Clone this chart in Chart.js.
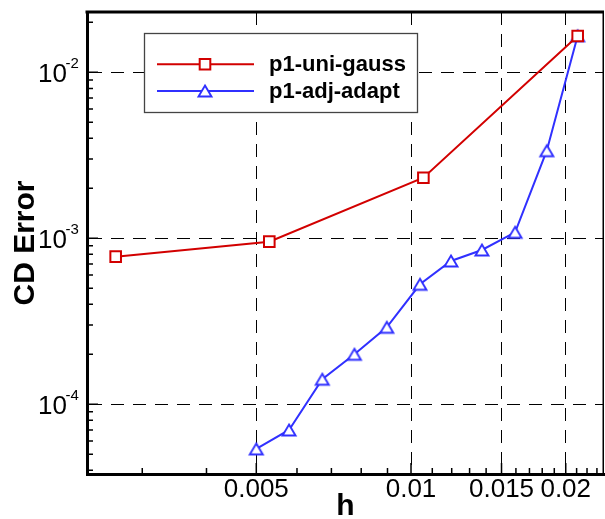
<!DOCTYPE html>
<html><head><meta charset="utf-8">
<script src="https://cdn.jsdelivr.net/npm/chart.js@4.4.1/dist/chart.umd.min.js"></script>
<style>html,body{margin:0;padding:0;background:#fff;} #wrap{width:605px;height:519px;}</style>
</head><body><div id="wrap"><canvas id="c" width="605" height="519"></canvas></div>
<script>
// ---------------- data ----------------
const redLabel = 'p1-uni-gauss';
const redH   = [0.002663, 0.0053, 0.01057, 0.0211];
const redErr = [7.75e-4, 9.54e-4, 2.317e-3, 1.655e-2];

const blueLabel = 'p1-adj-adapt';
const blueH   = [0.005, 0.00579, 0.00672, 0.00776, 0.00897, 0.01041, 0.01196, 0.01374, 0.01594, 0.01837, 0.0211];
const blueErr = [5.38e-5, 7.0e-5, 1.415e-4, 2.0e-4, 2.91e-4, 5.28e-4, 7.3e-4, 8.5e-4, 1.087e-3, 3.37e-3, 1.66e-2];

const xTickValues = [0.005, 0.01, 0.015, 0.02];
const xTickLabels = ['0.005', '0.01', '0.015', '0.02'];
const xMinorTicks = [0.003, 0.004, 0.006, 0.007, 0.008, 0.009, 0.011, 0.012, 0.013, 0.014, 0.016, 0.017, 0.018, 0.019, 0.021, 0.022, 0.023];

const yTickValues = [1e-4, 1e-3, 1e-2];
const yTickBase = '10';
const yTickExponents = ['-4', '-3', '-2'];
const yMinorTicks = [4e-5, 5e-5, 6e-5, 7e-5, 8e-5, 9e-5,
                     2e-4, 3e-4, 4e-4, 5e-4, 6e-4, 7e-4, 8e-4, 9e-4,
                     2e-3, 3e-3, 4e-3, 5e-3, 6e-3, 7e-3, 8e-3, 9e-3,
                     2e-2];

const xTitle = 'h';
const yTitle = 'CD Error';

// ---------------- style ----------------
const FONT = '"Liberation Sans", Arial, Helvetica, sans-serif';
const RED = '#d20000';
const BLUE = '#3030ff';

function makeTriangle(color) {
  const c = document.createElement('canvas');
  c.width = 26; c.height = 26;
  const g = c.getContext('2d');
  g.beginPath();
  g.moveTo(13, 13 - 5.5);
  g.lineTo(13 + 6.5, 13 + 5.5);
  g.lineTo(13 - 6.5, 13 + 5.5);
  g.closePath();
  g.fillStyle = '#fff'; g.fill();
  g.lineWidth = 1.9; g.strokeStyle = color; g.lineJoin = 'miter';
  g.stroke();
  return c;
}
const triImg = makeTriangle(BLUE);

const decor = {
  id: 'decor',
  afterDatasetsDraw(chart) {
    const {ctx, chartArea: a, scales: {x, y}} = chart;
    ctx.save();
    // inner tick marks
    ctx.strokeStyle = '#000';
    ctx.lineWidth = 1.5;
    ctx.beginPath();
    xMinorTicks.forEach(v => { const p = x.getPixelForValue(v); ctx.moveTo(p, a.bottom); ctx.lineTo(p, a.bottom - 6); });
    xTickValues.forEach(v => { const p = x.getPixelForValue(v); ctx.moveTo(p, a.bottom); ctx.lineTo(p, a.bottom - 11); });
    yMinorTicks.forEach(v => { const p = y.getPixelForValue(v); ctx.moveTo(a.left, p); ctx.lineTo(a.left + 6, p); });
    yTickValues.forEach(v => { const p = y.getPixelForValue(v); ctx.moveTo(a.left, p); ctx.lineTo(a.left + 11, p); });
    ctx.stroke();

    // frame: top and right
    ctx.lineWidth = 3;
    ctx.beginPath();
    ctx.moveTo(a.left - 1.5, a.top); ctx.lineTo(a.right, a.top);
    ctx.stroke();
    ctx.lineWidth = 1.5;
    ctx.beginPath();
    ctx.moveTo(a.right - 0.75, a.top); ctx.lineTo(a.right - 0.75, a.bottom);
    ctx.stroke();

    // y tick labels with superscripts
    ctx.fillStyle = '#000';
    ctx.textBaseline = 'alphabetic';
    yTickValues.forEach((v, i) => {
      const p = y.getPixelForValue(v);
      ctx.font = '26px ' + FONT;
      ctx.textAlign = 'right';
      ctx.fillText(yTickBase, 67, p + 9.4);
      ctx.font = '15px ' + FONT;
      ctx.textAlign = 'left';
      ctx.fillText(yTickExponents[i], 65.5, p - 4);
    });

    // legend box
    const bx = 144, by = 33, bw = 273, bh = 79;
    ctx.fillStyle = '#fff';
    ctx.fillRect(bx, by, bw, bh);
    ctx.strokeStyle = '#444';
    ctx.lineWidth = 1.3;
    ctx.strokeRect(bx + 0.5, by + 0.5, bw, bh);
    const rowsY = [64.3, 91];
    chart.data.datasets.forEach((ds, i) => {
      const ly = rowsY[i];
      ctx.strokeStyle = ds.borderColor;
      ctx.lineWidth = ds.borderWidth;
      ctx.beginPath();
      ctx.moveTo(157, ly); ctx.lineTo(254, ly);
      ctx.stroke();
      ctx.fillStyle = ds.pointBackgroundColor;
      ctx.strokeStyle = ds.pointBorderColor;
      ctx.lineWidth = ds.pointBorderWidth;
      Chart.helpers.drawPoint(ctx, {pointStyle: ds.pointStyle, radius: ds.pointRadius, borderWidth: ds.pointBorderWidth, rotation: 0}, 205, ly);
      ctx.fillStyle = '#000';
      ctx.font = 'bold 22px ' + FONT;
      ctx.textAlign = 'left';
      ctx.textBaseline = 'alphabetic';
      ctx.fillText(ds.label, 269, ly + 6.5);
    });
    ctx.restore();
  }
};

new Chart(document.getElementById('c'), {
  type: 'line',
  data: {
    datasets: [
      {
        label: redLabel,
        data: redH.map((h, i) => ({x: h, y: redErr[i]})),
        borderColor: RED, borderWidth: 2,
        pointStyle: 'rect', pointRadius: 7.5, pointBorderWidth: 2,
        pointBorderColor: RED, pointBackgroundColor: '#fff',
        tension: 0, fill: false
      },
      {
        label: blueLabel,
        data: blueH.map((h, i) => ({x: h, y: blueErr[i]})),
        borderColor: BLUE, borderWidth: 2,
        pointStyle: triImg, pointRadius: 8, pointBorderWidth: 1.9,
        pointBorderColor: BLUE, pointBackgroundColor: '#fff',
        tension: 0, fill: false
      }
    ]
  },
  options: {
    responsive: false,
    animation: false,
    devicePixelRatio: 1,
    layout: { autoPadding: false, padding: { top: 12, right: 1, left: 0, bottom: 0 } },
    plugins: { legend: { display: false }, tooltip: { enabled: false } },
    scales: {
      x: {
        type: 'logarithmic', min: 0.002342, max: 0.02374, bounds: 'data',
        afterBuildTicks: s => { s.ticks = xTickValues.map(v => ({value: v})); },
        afterFit: s => { s.height = 45; s.paddingLeft = 0; s.paddingRight = 0; },
        grid: { display: true, drawTicks: false, color: '#000', lineWidth: 1 },
        border: { display: true, width: 3, color: '#000', dash: [13, 9] },
        ticks: {
          autoSkip: false, maxRotation: 0, minRotation: 0, padding: 0, color: '#000',
          font: { family: FONT, size: 26 },
          callback: v => xTickLabels[xTickValues.indexOf(v)]
        },
        title: { display: true, text: xTitle, color: '#000', padding: 0,
                 font: { family: FONT, size: 30, weight: 'bold', lineHeight: 0.8 } }
      },
      y: {
        type: 'logarithmic', min: 3.80e-5, max: 0.02308, bounds: 'data',
        afterBuildTicks: s => { s.ticks = yTickValues.map(v => ({value: v})); },
        afterFit: s => { s.width = 87; s.paddingTop = 0; s.paddingBottom = 0; },
        grid: { display: true, drawTicks: false, color: '#000', lineWidth: 1 },
        border: { display: true, width: 3, color: '#000', dash: [13, 9] },
        ticks: { display: false },
        title: { display: true, text: yTitle, color: '#000', padding: { top: 7.6, bottom: 0 },
                 font: { family: FONT, size: 30, weight: 'bold', lineHeight: 1.2 } }
      }
    }
  },
  plugins: [decor]
});
</script>
</body></html>
